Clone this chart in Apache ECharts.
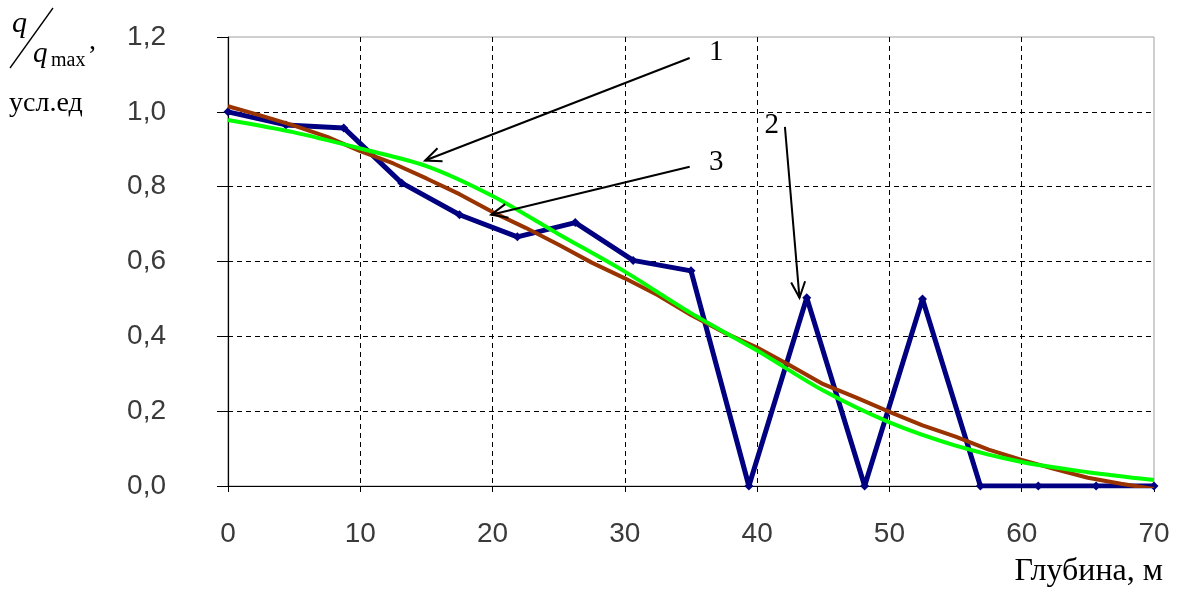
<!DOCTYPE html>
<html><head><meta charset="utf-8">
<script src="https://cdn.jsdelivr.net/npm/echarts@6/dist/echarts.min.js"></script>
<style>html,body{margin:0;padding:0;background:#fff}#c{width:1179px;height:589px}</style>
</head><body><div id="c"></div>
<script>
// Curve 2 (measured, blue, with markers)
const depthBlue = [0, 4.375, 8.75, 13.125, 17.5, 21.875, 26.25, 30.625, 35, 39.375, 43.75, 48.125, 52.5, 56.875, 61.25, 65.625, 70];
const valuesBlue = [1.0, 0.965, 0.957, 0.81, 0.725, 0.666, 0.704, 0.603, 0.575, 0.0, 0.503, 0.0, 0.5, 0.0, 0.0, 0.0, 0.0];
// Curve 3 (brown)
const depthBrown = [0, 2.5, 5, 7.5, 10, 12.5, 15, 17.5, 20, 22.5, 25, 27.5, 30, 32.5, 35, 37.5, 40, 42.5, 45, 47.5, 50, 52.5, 55, 57.5, 60, 62.5, 65, 67.5, 70];
const valuesBrown = [1.015, 0.99, 0.963, 0.933, 0.895, 0.862, 0.822, 0.78, 0.732, 0.69, 0.645, 0.597, 0.555, 0.51, 0.457, 0.41, 0.37, 0.322, 0.272, 0.236, 0.198, 0.162, 0.132, 0.097, 0.07, 0.045, 0.022, 0.006, -0.008];
// Curve 1 (green)
const depthGreen = [0, 5, 10, 15, 20, 25, 30, 35, 40, 45, 50, 55, 60, 65, 70];
const valuesGreen = [0.978, 0.945, 0.902, 0.855, 0.775, 0.673, 0.573, 0.462, 0.362, 0.255, 0.17, 0.108, 0.064, 0.037, 0.016];
// axis ticks
const xTicks = {min: 0, max: 70, step: 10};
const yTicks = {min: 0, max: 1.2, step: 0.2};
// annotations (data coordinates)
const annotations = [
  {label: '1', text: [36.9, 1.16], from: [34.9, 1.144], to: [14.9, 0.870]},
  {label: '3', text: [36.9, 0.864], from: [34.9, 0.853], to: [19.9, 0.725]},
  {label: '2', text: [41.1, 0.965], from: [42.1, 0.960], to: [43.2, 0.503]}
];
const xAxisTitle = 'Глубина, м';
const yAxisTitle = {num: 'q', den: 'q', sub: 'max', unit: 'усл.ед'};

const pair = (xs, ys) => xs.map((x, i) => [x, ys[i]]);
const chart = echarts.init(document.getElementById('c'), null, {renderer: 'canvas'});
const tickFont = {fontFamily: 'Liberation Sans', fontSize: 28, color: '#3a3a3a'};
const serif = 'Liberation Serif';

chart.setOption({
  animation: false,
  backgroundColor: '#fff',
  grid: {left: 228, right: 25, top: 37, bottom: 103, containLabel: false, outerBoundsMode: 'none',
         show: true, borderColor: '#a0a0a0', borderWidth: 1, backgroundColor: '#fff'},
  xAxis: {
    type: 'value', min: xTicks.min, max: xTicks.max, interval: xTicks.step,
    axisLine: {show: true, onZero: false, lineStyle: {color: '#000', width: 1.2}},
    axisTick: {show: true, inside: false, length: 6, lineStyle: {color: '#000'}},
    axisLabel: Object.assign({margin: 34}, tickFont),
    splitLine: {show: true, showMinLine: false, showMaxLine: false, lineStyle: {color: '#000', type: [5, 4], width: 1}}
  },
  yAxis: {
    type: 'value', min: yTicks.min, max: yTicks.max, interval: yTicks.step,
    axisLine: {show: true, onZero: false, lineStyle: {color: '#000', width: 1.2}},
    axisTick: {show: true, inside: false, length: 11, lineStyle: {color: '#000'}},
    axisLabel: Object.assign({margin: 62, formatter: v => v.toFixed(1).replace('.', ',')}, tickFont),
    splitLine: {show: true, showMinLine: false, showMaxLine: false, lineStyle: {color: '#000', type: [5, 4], width: 1}}
  },
  series: [
    {type: 'line', name: '2', data: pair(depthBlue, valuesBlue), symbol: 'diamond', symbolSize: 9,
     itemStyle: {color: '#000080'}, lineStyle: {color: '#000080', width: 5}, z: 2},
    {type: 'line', name: '3', data: pair(depthBrown, valuesBrown), symbol: 'none',
     lineStyle: {color: '#993300', width: 4}, z: 3},
    {type: 'line', name: '1', data: pair(depthGreen, valuesGreen), symbol: 'none', smooth: 0.3,
     lineStyle: {color: '#00ff00', width: 4}, z: 4}
  ]
});

function buildGraphics() {
  const g = [];
  const toPx = p => chart.convertToPixel({gridIndex: 0}, p);
  annotations.forEach(a => {
    const f = toPx(a.from), t = toPx(a.to), c = toPx(a.text);
    const dx = t[0] - f[0], dy = t[1] - f[1];
    const len = Math.hypot(dx, dy), ux = dx / len, uy = dy / len;
    const hl = 16, hw = 7;
    const b = [t[0] - ux * hl, t[1] - uy * hl];
    const p1 = [b[0] - uy * hw, b[1] + ux * hw], p2 = [b[0] + uy * hw, b[1] - ux * hw];
    g.push({type: 'line', shape: {x1: f[0], y1: f[1], x2: t[0], y2: t[1]}, style: {stroke: '#000', lineWidth: 2}, z: 100});
    g.push({type: 'polyline', shape: {points: [p1, t, p2]}, style: {stroke: '#000', lineWidth: 2, fill: null}, z: 100});
    g.push({type: 'text', x: c[0], y: c[1], style: {text: a.label, font: '29px "' + serif + '"', fill: '#000', align: 'center', verticalAlign: 'middle'}, z: 100});
  });
  // y axis title
  g.push({type: 'text', x: 12, y: 24, style: {text: yAxisTitle.num, font: 'italic 30px "' + serif + '"', fill: '#000', align: 'left', verticalAlign: 'middle'}});
  g.push({type: 'line', shape: {x1: 10, y1: 68, x2: 53, y2: 8}, style: {stroke: '#000', lineWidth: 1.3}});
  g.push({type: 'text', x: 33, y: 54, style: {text: yAxisTitle.den, font: 'italic 29px "' + serif + '"', fill: '#000', align: 'left', verticalAlign: 'middle'}});
  g.push({type: 'text', x: 51, y: 61, style: {text: yAxisTitle.sub, font: '20px "' + serif + '"', fill: '#000', align: 'left', verticalAlign: 'middle'}});
  g.push({type: 'text', x: 89, y: 42, style: {text: ',', font: '28px "' + serif + '"', fill: '#000', align: 'left', verticalAlign: 'middle'}});
  g.push({type: 'text', x: 9, y: 104, style: {text: yAxisTitle.unit, font: '28px "' + serif + '"', fill: '#000', align: 'left', verticalAlign: 'middle'}});
  // x axis title
  g.push({type: 'text', x: 1163, y: 572, style: {text: xAxisTitle, font: '32px "' + serif + '"', fill: '#000', align: 'right', verticalAlign: 'middle'}});
  chart.setOption({graphic: g});
}
buildGraphics();
</script>
</body></html>
